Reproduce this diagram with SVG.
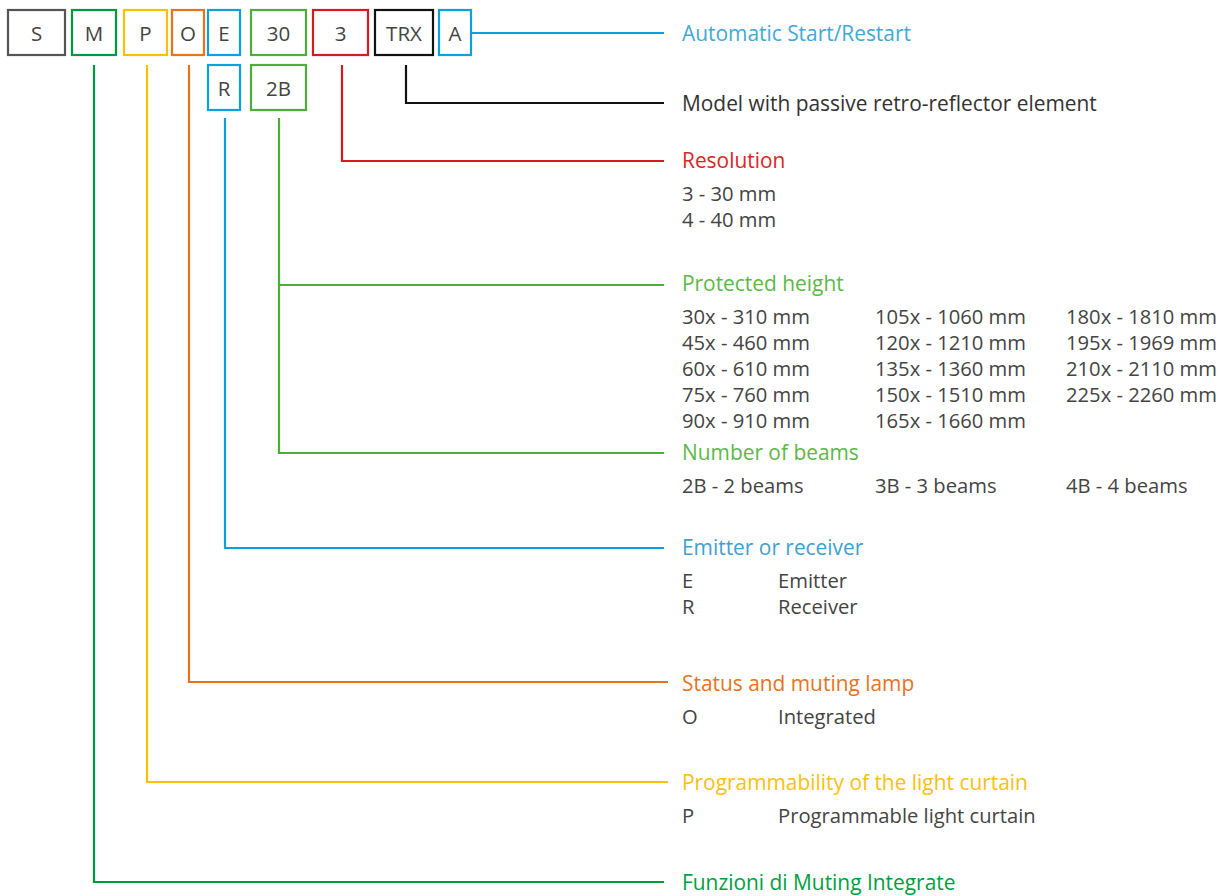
<svg xmlns="http://www.w3.org/2000/svg" width="1222" height="896" viewBox="0 0 1222 896">
<style>
.b{fill:#fff;stroke-width:2.2}
.bl{font-family:"Open Sans","Noto Sans",sans-serif;font-size:20.5px;fill:#444;text-anchor:middle}
.c{fill:none;stroke-width:2.2}
.h{font-family:"Open Sans","Noto Sans",sans-serif;font-size:20.9px}
.t{font-family:"Open Sans","Noto Sans",sans-serif;font-size:20.2px;fill:#444}
</style>
<rect width="1222" height="896" fill="#fff"/>
<g id="connectors">
<path class="c" stroke="#0ba0e0" d="M471 33H664"/>
<path class="c" stroke="#111" d="M406 65V103H664"/>
<path class="c" stroke="#d71920" d="M342 65V161H664"/>
<path class="c" stroke="#4cae38" d="M279 118V453H664M279 285H664"/>
<path class="c" stroke="#0ba0e0" d="M225 118V548H664"/>
<path class="c" stroke="#e8731c" d="M189 65V682H668"/>
<path class="c" stroke="#fcc000" d="M147 65V782H668"/>
<path class="c" stroke="#009a3e" d="M94 65V882H664"/>
</g>
<g id="box-S"><rect class="b" x="8" y="10" width="57" height="45" stroke="#555"/><text class="bl" x="36.5" y="40.5">S</text></g>
<g id="box-M"><rect class="b" x="72" y="10" width="44" height="45" stroke="#009a3e"/><text class="bl" x="94" y="40.5">M</text></g>
<g id="box-P"><rect class="b" x="124" y="10" width="43" height="45" stroke="#fcc000"/><text class="bl" x="145.5" y="40.5">P</text></g>
<g id="box-O"><rect class="b" x="172" y="10" width="32" height="45" stroke="#e8731c"/><text class="bl" x="188" y="40.5">O</text></g>
<g id="box-E"><rect class="b" x="208" y="10" width="32" height="45" stroke="#0ba0e0"/><text class="bl" x="224" y="40.5">E</text></g>
<g id="box-30"><rect class="b" x="251" y="10" width="55" height="45" stroke="#4cae38"/><text class="bl" x="278.5" y="40.5">30</text></g>
<g id="box-3"><rect class="b" x="313" y="10" width="55" height="45" stroke="#d71920"/><text class="bl" x="340.5" y="40.5">3</text></g>
<g id="box-TRX"><rect class="b" x="375" y="10" width="58" height="45" stroke="#111"/><text class="bl" x="404" y="40.5">TRX</text></g>
<g id="box-A"><rect class="b" x="439" y="10" width="32" height="45" stroke="#0ba0e0"/><text class="bl" x="455" y="40.5">A</text></g>
<g id="box-R"><rect class="b" x="208" y="65" width="32" height="45" stroke="#0ba0e0"/><text class="bl" x="224" y="95.5">R</text></g>
<g id="box-2B"><rect class="b" x="251" y="65" width="55" height="45" stroke="#4cae38"/><text class="bl" x="278.5" y="95.5">2B</text></g>
<g id="legend">
<text class="h" x="682" y="41" fill="#3fa9d6">Automatic Start/Restart</text>
<text class="h" x="682" y="111" fill="#333">Model with passive retro-reflector element</text>
<text class="h" x="682" y="168" fill="#e02424">Resolution</text>
<text class="t" x="682" y="201">3 - 30 mm</text>
<text class="t" x="682" y="227">4 - 40 mm</text>
<text class="h" x="682" y="291" fill="#5cb848">Protected height</text>
<text class="t" x="682" y="324">30x - 310 mm</text>
<text class="t" x="682" y="350">45x - 460 mm</text>
<text class="t" x="682" y="376">60x - 610 mm</text>
<text class="t" x="682" y="402">75x - 760 mm</text>
<text class="t" x="682" y="428">90x - 910 mm</text>
<text class="t" x="875" y="324">105x - 1060 mm</text>
<text class="t" x="875" y="350">120x - 1210 mm</text>
<text class="t" x="875" y="376">135x - 1360 mm</text>
<text class="t" x="875" y="402">150x - 1510 mm</text>
<text class="t" x="875" y="428">165x - 1660 mm</text>
<text class="t" x="1066" y="324">180x - 1810 mm</text>
<text class="t" x="1066" y="350">195x - 1969 mm</text>
<text class="t" x="1066" y="376">210x - 2110 mm</text>
<text class="t" x="1066" y="402">225x - 2260 mm</text>
<text class="h" x="682" y="460" fill="#5cb848">Number of beams</text>
<text class="t" x="682" y="493">2B - 2 beams</text>
<text class="t" x="875" y="493">3B - 3 beams</text>
<text class="t" x="1066" y="493">4B - 4 beams</text>
<text class="h" x="682" y="555" fill="#3fa0d0">Emitter or receiver</text>
<text class="t" x="682" y="588">E</text>
<text class="t" x="778" y="588">Emitter</text>
<text class="t" x="682" y="614">R</text>
<text class="t" x="778" y="614">Receiver</text>
<text class="h" x="682" y="691" fill="#e8731c">Status and muting lamp</text>
<text class="t" x="682" y="724">O</text>
<text class="t" x="778" y="724">Integrated</text>
<text class="h" x="682" y="790" fill="#fcc010">Programmability of the light curtain</text>
<text class="t" x="682" y="823">P</text>
<text class="t" x="778" y="823">Programmable light curtain</text>
<text class="h" x="682" y="890" fill="#00a040">Funzioni di Muting Integrate</text>
</g>
</svg>
